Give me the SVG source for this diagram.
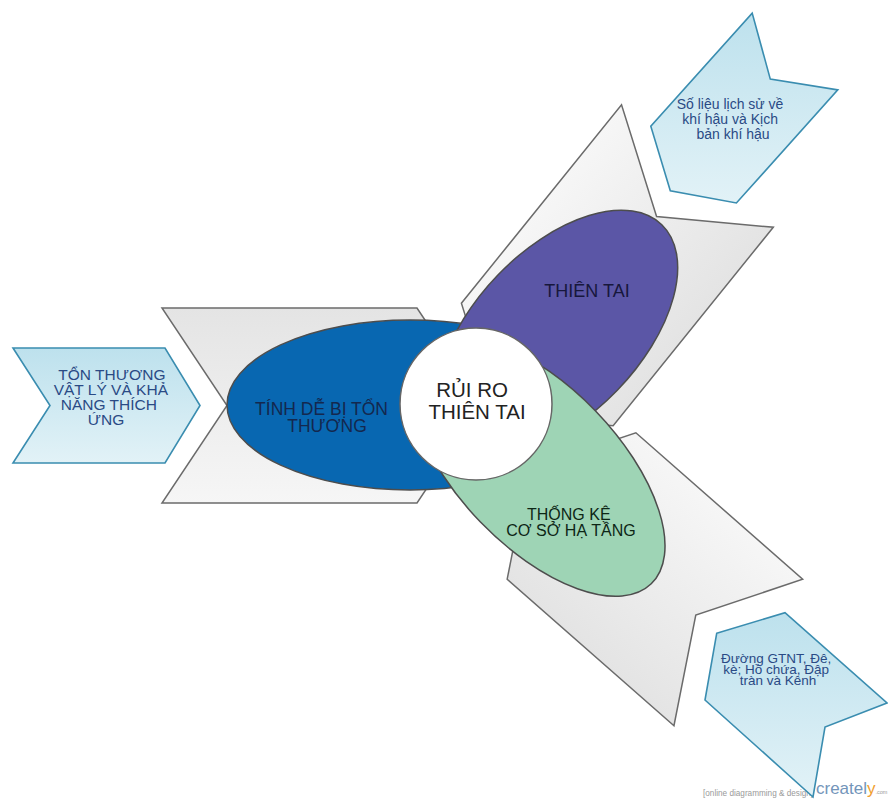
<svg xmlns="http://www.w3.org/2000/svg" width="888" height="800" viewBox="0 0 888 800">
  <defs>
    <linearGradient id="grayFill" x1="0" y1="0" x2="0" y2="1">
      <stop offset="0" stop-color="#e4e4e4"/>
      <stop offset="1" stop-color="#f6f6f6"/>
    </linearGradient>
    <linearGradient id="blueFill" x1="0" y1="0" x2="0" y2="1">
      <stop offset="0" stop-color="#bde1ed"/>
      <stop offset="1" stop-color="#e2f2f7"/>
    </linearGradient>
    <!-- large chevron, back edge centred on the origin, pointing along +x -->
    <path id="bigChevron" d="M0,-97.5 L255,-97.5 L320,0 L255,97.5 L0,97.5 L65,0 Z"/>
    <path id="shortChevron" d="M0,-97.5 L222,-97.5 L278.6,0 L222,97.5 L0,97.5 L56.6,0 Z"/>
    <style>
      .gray { fill: url(#grayFill); stroke: #6b6b6b; stroke-width: 1.5; stroke-linejoin: miter; }
      .input { fill: url(#blueFill); stroke: #3a8db0; stroke-width: 1.6; stroke-linejoin: miter; }
      .lobe { stroke: #4d4d4d; stroke-width: 1.5; }
      text { font-family: "Liberation Sans", Arial, sans-serif; text-anchor: middle; }
      .inTxt { fill: #2a4a85; }
      .mark { text-anchor: start; }
    </style>
  </defs>

  <rect width="888" height="800" fill="#ffffff"/>

  <!-- grey chevrons behind the three lobes -->
  <g id="chevron-left"><use href="#bigChevron" class="gray" transform="translate(162,405.5)"/></g>
  <g id="chevron-top"><use href="#bigChevron" class="gray" transform="translate(697.4,166) rotate(128.9)"/></g>
  <g id="chevron-bottom"><use href="#shortChevron" class="gray" transform="translate(738.3,652.5) rotate(-138.7)"/></g>

  <!-- footer mark, partly tucked under the lower input chevron -->
  <g id="footer-mark">
    <text class="mark" x="703" y="796" font-size="8.2" fill="#9a9a9a">[online diagramming &amp; design]</text>
    <text class="mark" x="816" y="794" font-size="17" fill="#7395ba">createl<tspan fill="#f0a030">y</tspan><tspan font-size="5.5" fill="#9a9a9a">.com</tspan></text>
  </g>

  <!-- input chevrons -->
  <g id="input-left">
    <polygon class="input" points="13,348 165,348 200,405.5 165,463 13,463 50,405.5"/>
    <text class="inTxt" font-size="15.5">
      <tspan x="114" y="380">TỔN THƯƠNG</tspan>
      <tspan x="113" y="395">VẬT LÝ VÀ KHẢ</tspan>
      <tspan x="111" y="410">NĂNG THÍCH</tspan>
      <tspan x="106" y="425">ỨNG</tspan>
    </text>
  </g>
  <g id="input-top">
    <polygon class="input" points="752.2,13.1 770.3,79.1 837.8,89.9 736.4,203 670.3,190.8 650.8,126.3"/>
    <text class="inTxt" font-size="14">
      <tspan x="732" y="109">Số liệu lịch sử về</tspan>
      <tspan x="732" y="124">khí hậu và Kịch</tspan>
      <tspan x="733" y="139">bản khí hậu</tspan>
    </text>
  </g>
  <g id="input-bottom">
    <polygon class="input" points="716.7,633.3 785,612.7 887,703 825,727 813,797 705,700"/>
    <text class="inTxt" font-size="13.5">
      <tspan x="778" y="663">Đường GTNT, Đê,</tspan>
      <tspan x="778" y="674">kè; Hồ chứa, Đập</tspan>
      <tspan x="778" y="685">tràn và Kênh</tspan>
    </text>
  </g>

  <!-- lobes -->
  <g id="lobe-vulnerability">
    <ellipse class="lobe" cx="410" cy="405" rx="183" ry="85" fill="#0867b1"/>
    <text font-size="17.5" fill="#14284e">
      <tspan x="324" y="415">TÍNH DỄ BỊ TỔN</tspan>
      <tspan x="327" y="432">THƯƠNG</tspan>
    </text>
  </g>
  <g id="lobe-hazard">
    <ellipse class="lobe" cx="0" cy="0" rx="150" ry="83" fill="#5b56a6" transform="translate(557.6,332.6) rotate(-46)"/>
    <text x="587" y="297" font-size="18" fill="#17173c">THIÊN TAI</text>
  </g>
  <g id="lobe-exposure">
    <ellipse class="lobe" cx="0" cy="0" rx="163" ry="80" fill="#9ed4b5" transform="translate(538,466.5) rotate(46)"/>
    <text font-size="16" fill="#0d2616">
      <tspan x="571" y="520">THỐNG KÊ</tspan>
      <tspan x="571" y="536">CƠ SỞ HẠ TẦNG</tspan>
    </text>
  </g>

  <!-- centre -->
  <g id="risk-centre">
    <circle cx="476" cy="404" r="76" fill="#ffffff" stroke="#666666" stroke-width="1.5"/>
    <text font-size="20.5" fill="#222222">
      <tspan x="475" y="397">RỦI RO</tspan>
      <tspan x="477" y="419">THIÊN TAI</tspan>
    </text>
  </g>
</svg>
